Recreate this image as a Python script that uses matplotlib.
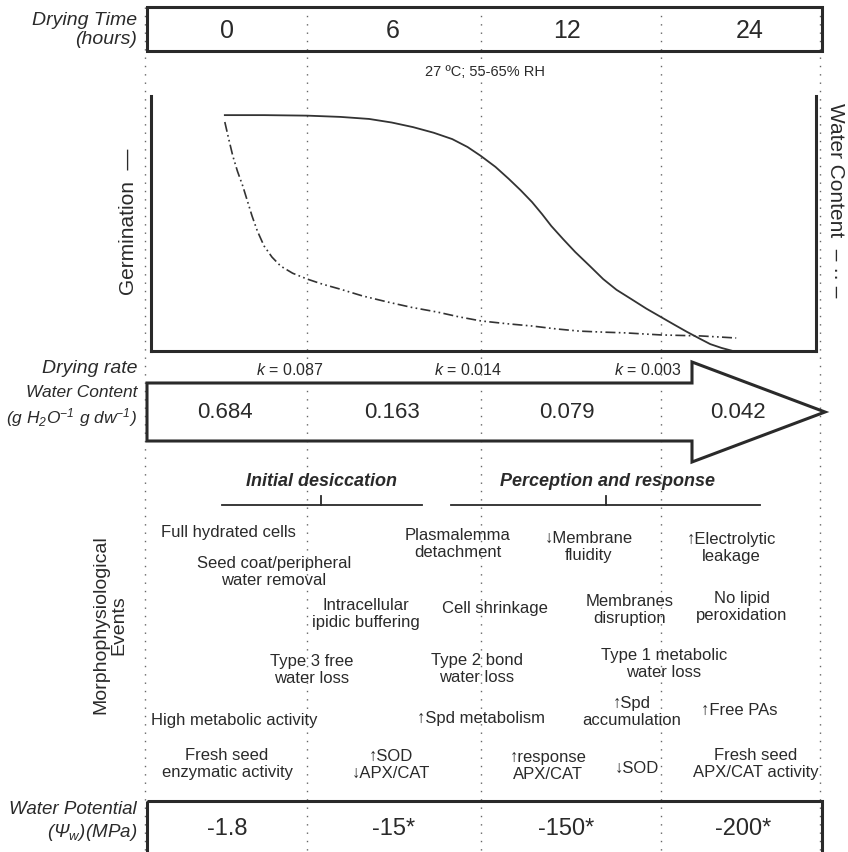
import matplotlib.pyplot as plt
from matplotlib.patches import Rectangle, Polygon

plt.rcParams['font.family'] = ['Liberation Sans', 'DejaVu Sans']
plt.rcParams['mathtext.fontset'] = 'custom'
plt.rcParams['mathtext.rm'] = 'Liberation Sans:italic'
plt.rcParams['mathtext.it'] = 'Liberation Sans:italic'
plt.rcParams['mathtext.default'] = 'it'

# %% data
hours = ['0', '6', '12', '24']
water_content = ['0.684', '0.163', '0.079', '0.042']
drying_k = ['0.087', '0.014', '0.003']
water_potential = ['-1.8', '-15*', '-150*', '-200*']

# curves, in % of the plot box (x: drying progress, y: relative level)
germ_x = [11.1, 17.0, 23.5, 28.5, 32.8, 36.2, 39.4, 42.5, 45.3, 47.6, 49.6, 51.8, 53.8,
          55.6, 57.3, 58.8, 60.2, 62.0, 63.8, 66.0, 68.0, 70.0, 72.2, 74.5, 76.7,
          78.7, 80.6, 82.4, 84.1, 85.8, 87.5]
germ_y = [92.5, 92.5, 92.3, 91.8, 91.0, 89.6, 87.8, 85.6, 83.1, 80.0, 76.5, 72.2, 67.5,
          63.0, 58.4, 53.7, 49.0, 43.8, 38.8, 33.3, 28.2, 24.0, 20.4, 16.6, 13.3,
          10.3, 7.5, 5.0, 2.7, 1.2, 0.0]
wc_x = [11.1, 11.7, 12.3, 13.0, 13.8, 14.5, 15.2, 16.0, 17.0, 18.2, 19.5, 21.3, 23.5,
        25.8, 28.4, 31.8, 35.6, 39.2, 43.0, 46.3, 49.6, 53.5, 57.3, 60.8, 64.4,
        68.0, 71.4, 74.0, 76.7, 79.7, 82.7, 85.4, 88.0]
wc_y = [89.8, 83.0, 76.5, 70.5, 64.7, 58.8, 52.9, 47.0, 41.2, 36.8, 33.3, 30.5, 28.2,
        26.2, 24.3, 21.6, 19.2, 17.1, 15.3, 13.4, 11.8, 10.7, 9.8, 8.7, 7.8,
        7.4, 7.1, 6.7, 6.3, 6.1, 5.9, 5.5, 5.1]

events = ['Full hydrated cells', 'Seed coat/peripheral\nwater removal',
          'Intracellular\nipidic buffering', 'Type 3 free\nwater loss',
          'High metabolic activity', 'Fresh seed\nenzymatic activity',
          '\u2191SOD\n\u2193APX/CAT',
          'Plasmalemma\ndetachment', '\u2193Membrane\nfluidity',
          '\u2191Electrolytic\nleakage', 'Cell shrinkage',
          'Membranes\ndisruption', 'No lipid\nperoxidation',
          'Type 2 bond\nwater loss', 'Type 1 metabolic\nwater loss',
          '\u2191Spd metabolism', '\u2191Spd\naccumulation', '\u2191Free PAs',
          '\u2191response\nAPX/CAT', '\u2193SOD', 'Fresh seed\nAPX/CAT activity']
event_pos = [(228, 533), (274, 572), (366, 614), (312, 670), (234, 720), (227, 764),
             (391, 765), (458, 544), (589, 547), (731, 548), (495, 609),
             (630, 610), (742, 607), (477, 669), (664, 664), (481, 718),
             (632, 712), (739, 710), (548, 766), (637, 768), (756, 764)]

INK = '#2a2a2a'
col_edges = [145, 307, 481, 661, 820]
col_mid = [227, 393, 567, 750]
wc_mid = [225, 392, 567, 738]
wp_mid = [227, 394, 566, 743]
k_mid = [290, 468, 648]

fig = plt.figure(figsize=(8.48, 8.53), dpi=100)
ax = fig.add_axes([0, 0, 1, 1])
ax.set_xlim(0, 848)
ax.set_ylim(853, 0)
ax.axis('off')

# dotted column guides
for xe in col_edges:
    ax.plot([xe, xe], [8, 853], color='#666666', lw=1.0, ls=(0, (1, 5)), zorder=1)

# top row: drying time
ax.add_patch(Rectangle((147, 8), 675, 44, fill=False, lw=2.2, ec=INK, zorder=3))
ax.text(137, 30, 'Drying Time\n(hours)', ha='right', va='center', fontsize=14,
        style='italic', color=INK, linespacing=1.1)
for xm, h in zip(col_mid, hours):
    ax.text(xm, 31, h, ha='center', va='center', fontsize=18, color=INK)
ax.text(485, 72, '27 ºC; 55-65% RH', ha='center', va='center', fontsize=10.5, color=INK)

# germination / water content curves
axc = fig.add_axes([151 / 848, 1 - 352 / 853, 665 / 848, 255 / 853])
axc.patch.set_alpha(0)
axc.plot(germ_x, germ_y, color='#333333', lw=1.3)
axc.plot(wc_x, wc_y, color='#333333', lw=1.2, ls=(0, (6, 2, 1, 2, 1, 2)))
axc.set_xlim(0, 100)
axc.set_ylim(0, 100)
axc.set_xticks([])
axc.set_yticks([])
axc.spines['top'].set_visible(False)
for s in ['left', 'bottom', 'right']:
    axc.spines[s].set_linewidth(2.2)
    axc.spines[s].set_color(INK)
ax.text(128, 222, 'Germination  \u2014', rotation=90, ha='center', va='center',
        fontsize=15, color=INK)
ax.text(836, 200, 'Water Content  \u2013 \u00b7\u00b7 \u2013', rotation=-90, ha='center',
        va='center', fontsize=15, color=INK)

# drying rate + water content arrow
ax.text(137, 368, 'Drying rate', ha='right', va='center', fontsize=14,
        style='italic', color=INK)
for xm, k in zip(k_mid, drying_k):
    ax.text(xm, 370, '$k$ = ' + k, ha='center', va='center', fontsize=11.5, color=INK)
arrow = Polygon([(147, 384), (692, 384), (692, 363), (825, 413), (692, 463),
                 (692, 442), (147, 442)], closed=True, fill=False, lw=2.2,
                ec=INK, joinstyle='miter', zorder=3)
ax.add_patch(arrow)
ax.text(137, 407, 'Water Content\n(g H$_2$O$^{-1}$ g dw$^{-1}$)', ha='right',
        va='center', fontsize=12.5, style='italic', color=INK, linespacing=1.3)
for xm, w in zip(wc_mid, water_content):
    ax.text(xm, 413, w, ha='center', va='center', fontsize=16, color=INK)

# phase brackets
ax.text(322, 481, 'Initial desiccation', ha='center', va='center', fontsize=13,
        style='italic', weight='bold', color=INK)
ax.text(607, 481, 'Perception and response', ha='center', va='center', fontsize=13,
        style='italic', weight='bold', color=INK)
for x0, x1, xt in [(222, 422, 321), (451, 760, 606)]:
    ax.plot([x0, x1], [506, 506], color=INK, lw=1.3)
    ax.plot([xt, xt], [497, 506], color=INK, lw=1.3)

# events
ax.text(110, 625, 'Morphophysiological\nEvents', rotation=90, ha='center',
        va='center', fontsize=14, color=INK, linespacing=1.1)
for (xe, ye), ev in zip(event_pos, events):
    ax.text(xe, ye, ev, ha='center', va='center', fontsize=12, color=INK,
            linespacing=1.15)

# water potential row
ax.add_patch(Rectangle((147, 802), 675, 70, fill=False, lw=2.2, ec=INK, zorder=3,
                       clip_on=True))
ax.text(137, 822, 'Water Potential\n($\\Psi_w$)(MPa)', ha='right', va='center',
        fontsize=13.5, style='italic', color=INK, linespacing=1.25)
for xm, wp in zip(wp_mid, water_potential):
    ax.text(xm, 829, wp, ha='center', va='center', fontsize=17, color=INK)

fig.savefig('out.png', dpi=100)
